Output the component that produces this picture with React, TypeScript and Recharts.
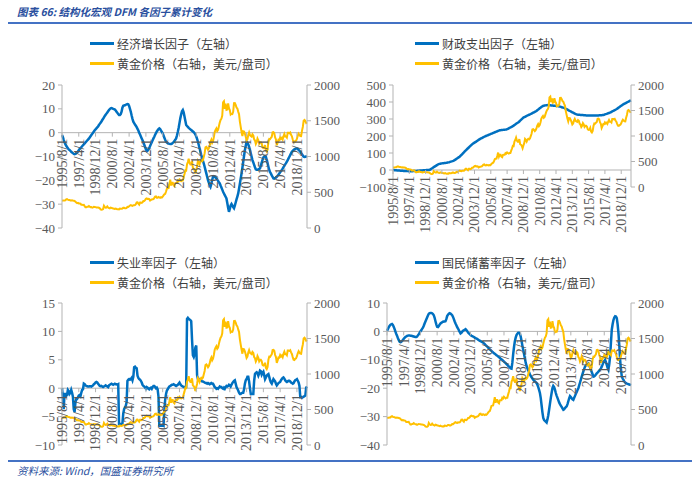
import React from "react";
import { LineChart, Line, XAxis, YAxis, ReferenceLine } from "recharts";

const FONT_CN = '"Noto Sans CJK SC", "Noto Sans", sans-serif';
const FONT_NUM = '"Liberation Serif", "DejaVu Serif", serif';
const BLUE = "#0070c0";
const GOLD = "#ffc000";
const AXIS = "#b3b3b3";
const TXT = "#595959";
const TITLE = "#2a4f9e";

// monthly categories, 1995/8/1 .. 2019/12/1
const months: string[] = [];
for (let y = 1995; y <= 2019; y++) {
  for (let m = y === 1995 ? 8 : 1; m <= 12; m++) months.push(`${y}/${m}/1`);
}

const tickLabels = [
  "1995/8/1", "1997/4/1", "1998/12/1", "2000/8/1", "2002/4/1", "2003/12/1", "2005/8/1", "2007/4/1",
  "2008/12/1", "2010/8/1", "2012/4/1", "2013/12/1", "2015/8/1", "2017/4/1", "2018/12/1",
];
const goldTicks = [0, 500, 1000, 1500, 2000];

// gold price, USD/oz (right axis)
const gold = [
  382, 383, 383, 386, 387,
  400, 405, 396, 393, 392, 385, 384, 388, 383, 381, 378, 369,
  355, 347, 352, 344, 344, 341, 324, 324, 323, 325, 306, 289,
  289, 297, 296, 308, 299, 292, 293, 284, 289, 296, 294, 292,
  287, 287, 286, 283, 276, 261, 256, 257, 265, 311, 293, 283,
  285, 301, 286, 280, 275, 286, 282, 275, 274, 270, 266, 272,
  266, 262, 263, 261, 272, 270, 268, 272, 283, 283, 276, 276,
  282, 296, 294, 303, 315, 321, 313, 310, 319, 317, 319, 333,
  357, 359, 341, 328, 356, 356, 351, 360, 379, 379, 390, 408,
  414, 405, 407, 403, 384, 392, 398, 401, 405, 421, 439, 442,
  424, 423, 434, 429, 422, 431, 425, 438, 456, 470, 477, 510,
  550, 555, 557, 611, 675, 596, 634, 633, 598, 586, 628, 630,
  631, 665, 655, 679, 667, 656, 665, 665, 713, 755, 806, 803,
  890, 922, 968, 910, 889, 890, 940, 839, 830, 807, 761, 816,
  859, 943, 924, 890, 929, 946, 934, 950, 997, 1043, 1127, 1135,
  1118, 1095, 1113, 1149, 1205, 1233, 1193, 1216, 1271, 1342, 1370, 1391,
  1356, 1373, 1424, 1474, 1510, 1529, 1573, 1756, 1772, 1665, 1739, 1652,
  1656, 1743, 1674, 1650, 1586, 1597, 1594, 1626, 1745, 1747, 1722, 1685,
  1671, 1628, 1593, 1488, 1414, 1343, 1286, 1352, 1349, 1317, 1276, 1225,
  1244, 1301, 1336, 1299, 1288, 1279, 1311, 1296, 1239, 1223, 1176, 1201,
  1252, 1227, 1179, 1199, 1199, 1182, 1128, 1118, 1125, 1159, 1086, 1068,
  1098, 1200, 1245, 1242, 1261, 1276, 1337, 1340, 1327, 1267, 1238, 1157,
  1192, 1234, 1231, 1267, 1246, 1260, 1237, 1283, 1314, 1280, 1282, 1265,
  1331, 1331, 1325, 1335, 1304, 1282, 1238, 1202, 1198, 1215, 1221, 1250,
  1292, 1320, 1301, 1286, 1284, 1359, 1413, 1500, 1511, 1495, 1470, 1479,
];

// economic growth factor (left axis)
const growth = [
  -1, -1.8, -3, -4, -4.8,
  -5.5, -6, -6.5, -7, -7.3, -7.6, -8, -8.3, -8.6, -8.9, -9, -8.9,
  -8.7, -8.4, -7.9, -7.4, -6.9, -6.5, -6.1, -5.7, -5.3, -4.9, -4.5, -4.1,
  -3.7, -3.3, -2.9, -2.5, -2, -1.5, -1, -0.5, 0, 0.5, 1, 1.4,
  1.8, 2.2, 2.6, 3.2, 3.7, 4.2, 4.7, 5.3, 5.8, 6.4, 7, 7.5,
  8, 8.5, 9, 9.5, 9.9, 10.2, 10.3, 10.2, 10, 9.9, 9.7, 9.3,
  8.8, 8.3, 7.8, 7.4, 7.4, 7.8, 8.8, 10.5, 11.3, 11.4, 11.5, 11.7,
  11.9, 12, 11.9, 11.2, 10, 8.8, 7.2, 5.8, 4.6, 4, 3.4, 2.9,
  2.3, 1.6, 0.9, 0, -0.8, -1.6, -2.4, -3.2, -4, -5, -6, -7,
  -7.7, -7.6, -7.1, -6.4, -5.6, -4.8, -4, -3.2, -2.4, -1.7, -0.9, -0.2,
  0.5, 1, 1.5, 1.8, 1.5, 0.9, 0.3, -0.3, -1.2, -2.1, -3, -3.8,
  -4.1, -4.4, -4.6, -4.7, -4.8, -4.8, -4.6, -4.3, -4, -3.5, -3, -2.4,
  -1.2, 0.3, 2, 4, 6, 7.6, 9, 9.5, 8.5, 6.8, 5, 3.2,
  2.8, 2.4, 2, 1.7, 1.4, 1.1, 0.8, 0.5, 0.2, -0.2, -0.8, -1.6,
  -2.6, -3.8, -5.2, -6.6, -8, -9.4, -10.6, -11.8, -13, -14.3, -15.7, -17.1,
  -18.5, -19.9, -21, -22, -22.7, -21.5, -19.8, -18.5, -18.3, -18.5, -18.9, -19.2,
  -19.7, -20.2, -20.8, -21.3, -22.2, -23, -23.9, -24.8, -25.5, -26.2, -26.9, -27.6,
  -29.5, -31.5, -33.2, -32, -30.5, -29.9, -30.5, -31.2, -31.7, -30.6, -29.3, -28,
  -26.8, -25.5, -23.5, -21.4, -19.2, -17.1, -14.7, -12.2, -9.7, -7.3, -5.5, -3.8,
  -4.2, -5, -5.9, -7.3, -8.7, -10.1, -11.5, -12.5, -13.5, -14.5, -15.4, -15.6,
  -15.6, -15.4, -15.2, -15, -13.8, -12.6, -11.4, -10.4, -10, -9.9, -10.1, -11.4,
  -12.8, -14.3, -15.7, -16.5, -17.2, -17.9, -18.6, -19.2, -19.3, -19.1, -18.8, -18.5,
  -18.1, -17.6, -17.1, -16.6, -16.2, -15.7, -15.1, -14.5, -13.9, -13.3, -12.8, -12.2,
  -11.5, -10.8, -10.1, -9.4, -8.7, -8, -7.6, -7.3, -7, -6.8, -6.6, -6.6,
  -6.8, -7.2, -7.6, -8, -8.5, -9, -9.6, -10.1, -10.2, -10.1, -10, -9.8,
];

// fiscal spending factor (left axis)
const fiscal = [
  0, -0.5, -1, -1.5, -2,
  -2.5, -3, -3.3, -3.6, -4, -4.3, -4.6, -5, -5.3, -5.6, -6, -6.2,
  -6.4, -6.6, -6.8, -7, -7, -7, -7, -6.8, -6.6, -6.4, -6, -5.6,
  -5.2, -4.8, -4.4, -4, -3.6, -3.2, -2.8, -2.4, -2, -1.6, -1.2, -0.8,
  -0.5, -0.2, 0, 0.5, 1.5, 4, 7, 10, 13.5, 17, 20, 23,
  26, 29, 32, 34, 36, 37, 38, 39, 39.5, 40, 40.5, 41,
  42, 43, 44, 45, 46, 47.5, 49, 50.5, 52, 54, 56.5, 59.5,
  62.5, 66, 69.5, 72.5, 75.5, 79, 84, 89, 94, 99, 104, 109,
  114, 119, 123.5, 128, 132.5, 137, 141.5, 146, 150.5, 155, 158, 161,
  164, 167, 170.5, 174, 177, 180, 183, 185.5, 188, 190.5, 193, 195.5,
  198, 200, 202, 204, 206, 208, 210, 212, 214, 216, 218, 220,
  222, 224, 226, 228, 230, 232, 234, 234.5, 235, 235.5, 236, 236.5,
  237, 237.5, 238, 240, 242.5, 245, 247.5, 250, 252.5, 255, 258, 261,
  264.5, 268, 271.5, 275, 278, 281, 285.5, 290, 294.5, 299, 303.5, 308,
  310.5, 313, 315.5, 318, 320.5, 323, 325, 327, 329.5, 332, 334.5, 337,
  339.5, 342, 344.5, 347, 351, 355, 359, 363, 366.5, 370, 373.5, 377,
  378, 379, 380, 381, 381.5, 382, 382, 381, 380.5, 380, 379.5, 379,
  378.5, 378, 377.5, 377, 377, 376, 375, 374, 372.5, 371, 369.5, 368,
  367, 365, 362.5, 360, 357.5, 355, 352, 349.5, 347, 344.5, 342, 339.5,
  337, 334.5, 332, 329.5, 327, 326, 325.5, 325, 324.5, 324, 323.5, 323,
  323, 322.5, 322, 321.5, 321, 320.5, 320, 320, 320, 320, 320, 320,
  320, 320, 320, 320, 320, 320, 320.5, 321, 321.5, 322, 322, 322.5,
  323, 323.5, 325, 327, 328.5, 330, 332, 334, 335.5, 337, 339.5, 342,
  344.5, 347, 349.5, 352, 354.5, 357, 360.5, 364, 367.5, 371, 374.5, 378,
  381.5, 385, 387.5, 390, 392.5, 395, 397.5, 400, 402.5, 405, 407.5, 410,
];

// unemployment factor (left axis)
const unemp = [
  0, -1.5, -3.7, -1, -1,
  -1.3, -1.2, -0.3, -0.5, -1, -0.8, -0.3, -0.8, -1.5, -3.7, -4.2, -2.5,
  -1.9, -1.9, -1.6, -1.3, -1.2, -1.4, -0.8, -0.3, -0.2, 0.8, 0.7, 0.5,
  0.4, 0.35, 0.3, 0.3, 0.35, 0.35, 0.3, 0.4, 0.5, 0.7, 0.8, 1,
  1.1, 1, 0.8, 0.6, 0.4, 0.35, 0.4, 0.3, 0.2, 0.3, 0.4, 0.5,
  0.4, 0.3, 0.2, 0.5, 0.6, 0.7, 0.8, 0.7, 0.6, 0.7, 0.8, 0.7,
  0.7, 0.6, 0.7, -6.3, -6.3, -6.3, -6.3, -6.2, -4.5, -3.7, -3.4, -3.1,
  -2.5, 1.3, 1.5, 1.6, 1.5, 1.6, 1.8, 1.4, 2, 3.7, 3.8, 3.6,
  3.5, 2.2, 1.8, 1.6, 1.5, 1.3, 1, 0.6, 0.4, 0.3, 0.1, -0.1,
  0.2, 0.1, -0.1, -0.2, 0, 0.1, -0.1, 0.2, 0.4, 0.4, 0.2, 0,
  0.1, -0.2, -1.5, -6.6, -6.6, -6.6, -6.6, -6.5, -6.6, -3.7, -2, -1,
  -0.4, -0.2, 0.1, 0.3, 0.4, 0.5, 0.6, 0.6, 0.7, 0.6, 0.5, 0.4,
  0.5, 0.6, 0.8, 1, 0.7, 0.5, 0.4, 0.3, 0.2, 0.2, 0.1, 0.2,
  12.2, 12.4, 12.2, 12.1, 12, 11.8, 8.5, 5.8, 5.5, 6, 7.2, 7.5,
  2.3, 1.6, 1.5, 1.6, 1.4, 1.3, 1.2, 1.2, 1.1, 1, 0.9, 0.9,
  0.8, 0.9, 0.8, 0.7, 0.8, 0.9, 0.8, 0.8, 0.5, 0.2, 0.1, -0.1,
  0, -0.1, 0.1, 0.3, 0.2, 0.2, 0, -0.1, 0.1, -0.1, 0.2, 0.4,
  0.3, 0.4, 0.6, 0.5, 0.3, 0.6, 0.9, 1.1, 1.3, 1.4, 0.8, 0.2,
  -0.1, -0.4, -0.8, -1, -1, -0.9, -0.8, -0.8, -0.2, 0.8, 1.4, 1.6,
  2, 2, 1.2, 0, -1, -1, -1, -1, 1.3, 2.5, 2.7, 2.8,
  2.6, 2.2, 2.6, 3.1, 3, 2.4, 2.7, 2.9, 2.3, 1.6, 1.9, 2.2,
  2.4, 2.5, 2, 1.4, 1, 0.8, 1.2, 1.6, 1.4, 1.2, 0.8, 0.5,
  0.7, 0.9, 1, 1.1, 1.4, 1.6, 1.8, 1.9, 1.7, 1.4, 1.2, 1.1,
  1.2, 1.3, 1.3, 1.2, 1, 0.9, 0.8, 0.9, 1.2, 1.4, 1.5, 1.6,
  1.3, 1, 0.4, -1.6, -1.6, -1.7, -1.6, -1.5, -1.4, -1.3, 0.1, 0.3,
];

// national saving rate factor (left axis)
const saving = [
  0.2, 0.8, 1.4, 1.9, 2.3,
  2.5, 2.6, 2.3, 1.6, 0.9, 0, -0.8, -1.5, -2.3, -3, -3.6, -3.8,
  -3.7, -3.4, -3, -2.6, -2.3, -2, -1.8, -1.6, -1.5, -1.4, -1.4, -1.5,
  -1.5, -1.6, -1.7, -1.8, -1.9, -2, -2, -1.8, -1.4, -1, -0.5, 0,
  0.4, 0.9, 1.3, 2, 2.8, 3.5, 4.2, 4.9, 5.6, 6.2, 6.4, 6.5,
  6.5, 6.4, 6.1, 5.7, 4.8, 3.6, 2.5, 1.6, 1.5, 1.9, 2.4, 2.8,
  3, 3.2, 3.4, 3.5, 3.5, 3.6, 4.3, 5.4, 5.9, 6.2, 6.4, 6.3,
  6, 5.7, 5.1, 4.3, 3.5, 2.8, 2.2, 1.5, 1, 0.4, -0.2, -0.7,
  -0.5, -0.1, 0.2, 0.4, 0.6, 0.8, 0.5, 0.1, -0.4, -0.7, -1, -1.3,
  -1.5, -1.7, -1.8, -2, -2.2, -2.4, -2.5, -2.7, -2.9, -3.1, -3.3, -3.4,
  -3.6, -3.8, -3.9, -4.2, -4.5, -4.8, -5.1, -5.4, -5.7, -6, -6.3, -6.6,
  -6.9, -7.2, -7.4, -7.7, -7.9, -8.1, -8.4, -8.6, -8.8, -9.1, -9.3, -9.6,
  -9.8, -10.1, -10.3, -10.6, -10.9, -11.2, -11.5, -11.8, -12.1, -12.4, -12.7, -13,
  -13.1, -11, -8, -5.5, -3.5, -2.2, -1.3, -0.8, -0.5, -0.5, -0.8, -1.8,
  -3.3, -5, -6.5, -8, -9.5, -11, -12.2, -13, -13.7, -14.4, -15.1, -15.7,
  -16.2, -16.6, -17, -17.3, -17.6, -17.9, -18.2, -18.8, -19.6, -20.6, -21.7, -23.5,
  -26, -28.5, -30.5, -31.2, -31.5, -31.8, -32.1, -31, -29.5, -27.6, -25.5, -23.5,
  -21.7, -20, -19.2, -19.6, -20.5, -21.7, -22.6, -23.4, -24.2, -25, -25.6, -26.1,
  -26.6, -27.1, -27.6, -27.4, -27, -26.7, -26.4, -25.6, -24.6, -23.6, -22.8, -23.1,
  -23.5, -23.9, -24.1, -23.4, -22.7, -22, -21.3, -20.6, -20, -19, -18, -17,
  -15.9, -15, -14.1, -13.2, -12.4, -12, -11.7, -11.5, -11.3, -11.9, -12.7, -13.5,
  -14.3, -15.1, -15.9, -15.8, -15.6, -15.2, -14.8, -14.5, -14.2, -13.8, -13.5, -13,
  -12.4, -11.7, -11, -10.4, -10, -10.8, -11.8, -12.8, -13.5, -11.5, -8.8, -4,
  0.6, 2.5, 4, 4.9, 5.3, 5.2, 4.7, 2.5, -0.6, -5, -10, -13.5,
  -15.9, -16.6, -17.1, -17.6, -18, -18.2, -18.4, -18.5, -18.6, -18.7, -18.8, -18.9,
];

const goldName = "黄金价格（右轴，美元/盘司）";

const rows = months.map((m, i) => ({
  m,
  gold: gold[i],
  growth: growth[i],
  fiscal: fiscal[i],
  unemp: unemp[i],
  saving: saving[i],
}));

const fmt = (v: number) => String(v).replace("-", "\u2212");

type PanelCfg = {
  left: number; top: number; width: number; height: number;
  plotLeft: number; plotRight: number; plotTop: number; plotBottom: number;
  domain: [number, number]; ticks: number[]; dataKey: string; name: string;
  legendX: number; legendY: number;
};

const panels: PanelCfg[] = [
  { left: 0, top: 75, width: 350, height: 165, plotLeft: 62, plotRight: 307, plotTop: 85, plotBottom: 228,
    domain: [-40, 20], ticks: [-40, -30, -20, -10, 0, 10, 20], dataKey: "growth", name: "经济增长因子（左轴）", legendX: 90, legendY: 43 },
  { left: 350, top: 75, width: 350, height: 165, plotLeft: 393, plotRight: 631, plotTop: 85, plotBottom: 187,
    domain: [-100, 500], ticks: [-100, 0, 100, 200, 300, 400, 500], dataKey: "fiscal", name: "财政支出因子（左轴）", legendX: 415, legendY: 43 },
  { left: 0, top: 295, width: 350, height: 165, plotLeft: 62, plotRight: 307, plotTop: 303, plotBottom: 445,
    domain: [-10, 15], ticks: [-10, -5, 0, 5, 10, 15], dataKey: "unemp", name: "失业率因子（左轴）", legendX: 90, legendY: 262 },
  { left: 350, top: 295, width: 350, height: 165, plotLeft: 387, plotRight: 631, plotTop: 303, plotBottom: 445,
    domain: [-40, 10], ticks: [-40, -30, -20, -10, 0, 10], dataKey: "saving", name: "国民储蓄率因子（左轴）", legendX: 415, legendY: 262 },
];

function XTick(props: any) {
  const { x, payload, zeroY } = props;
  const ty = zeroY + 6;
  return (
    <g>
      <line x1={x} x2={x} y1={zeroY} y2={zeroY + 4} stroke={AXIS} />
      <text x={x} y={ty} dy="0.35em" textAnchor="end" transform={`rotate(-90 ${x} ${ty})`}
        fontSize={14} fill={TXT} fontFamily={FONT_NUM}>{payload.value}</text>
    </g>
  );
}

function Legend2({ x, y, name }: { x: number; y: number; name: string }) {
  const items = [{ c: BLUE, t: name }, { c: GOLD, t: goldName }];
  return (
    <>
      {items.map((it, i) => (
        <div key={i} style={{ position: "absolute", left: x, top: y + i * 20 - 8, height: 16, display: "flex", alignItems: "center" }}>
          <div style={{ width: 24, height: 3, background: it.c, marginRight: 3 }} />
          <span style={{ fontFamily: FONT_CN, fontSize: 12, color: "#404040", whiteSpace: "nowrap" }}>{it.t}</span>
        </div>
      ))}
    </>
  );
}

function Panel({ p }: { p: PanelCfg }) {
  const yW = 36;
  const rW = 40;
  const mTop = p.plotTop - p.top;
  const xH = p.top + p.height - p.plotBottom;
  const [lo, hi] = p.domain;
  const zeroY = mTop + ((p.plotBottom - p.plotTop) * hi) / (hi - lo);
  const tickStyle = { fontSize: 13, fill: TXT, fontFamily: FONT_NUM };
  return (
    <>
      <Legend2 x={p.legendX} y={p.legendY} name={p.name} />
      <div style={{ position: "absolute", left: p.left, top: p.top }}>
        <LineChart width={p.width} height={p.height} data={rows}
          margin={{ top: mTop, right: p.left + p.width - p.plotRight - rW, bottom: 0, left: p.plotLeft - p.left - yW }}>
          <XAxis dataKey="m" ticks={tickLabels} interval={0} height={xH} axisLine={false} tickLine={false}
            tickSize={0} tickMargin={0} tick={(tp: any) => <XTick {...tp} zeroY={zeroY} />} />
          <YAxis yAxisId="l" domain={p.domain} ticks={p.ticks} interval={0} width={yW} allowDataOverflow
            axisLine={{ stroke: AXIS }} tickLine={{ stroke: AXIS }} tickSize={4} tickMargin={3}
            tick={tickStyle} tickFormatter={fmt} />
          <YAxis yAxisId="r" orientation="right" domain={[0, 2000]} ticks={goldTicks} interval={0} width={rW}
            axisLine={{ stroke: AXIS }} tickLine={{ stroke: AXIS }} tickSize={4} tickMargin={3} tick={tickStyle} />
          <ReferenceLine yAxisId="l" y={0} stroke={AXIS} strokeWidth={1} />
          <Line yAxisId="l" dataKey={p.dataKey} stroke={BLUE} strokeWidth={2.5} dot={false} isAnimationActive={false} />
          <Line yAxisId="r" dataKey="gold" stroke={GOLD} strokeWidth={2} dot={false} isAnimationActive={false} />
        </LineChart>
      </div>
    </>
  );
}

export default function App() {
  return (
    <div style={{ position: "absolute", left: 0, top: 0, width: 700, height: 485, background: "#fff", overflow: "hidden" }}>
      <div style={{ position: "absolute", left: 17, top: 4, fontFamily: FONT_CN, fontSize: 10.5, fontStyle: "italic", fontWeight: 600, color: TITLE, whiteSpace: "nowrap" }}>
        图表 66:  结构化宏观 DFM 各因子累计变化
      </div>
      <div style={{ position: "absolute", left: 8, top: 22, width: 684, height: 1.5, background: "#4472c4" }} />
      {panels.map((p, i) => <Panel key={i} p={p} />)}
      <div style={{ position: "absolute", left: 8, top: 460, width: 684, height: 1.5, background: "#4472c4" }} />
      <div style={{ position: "absolute", left: 17, top: 463, fontFamily: FONT_CN, fontSize: 10.5, fontStyle: "italic", color: TITLE, whiteSpace: "nowrap" }}>
        资料来源: Wind，国盛证券研究所
      </div>
    </div>
  );
}
